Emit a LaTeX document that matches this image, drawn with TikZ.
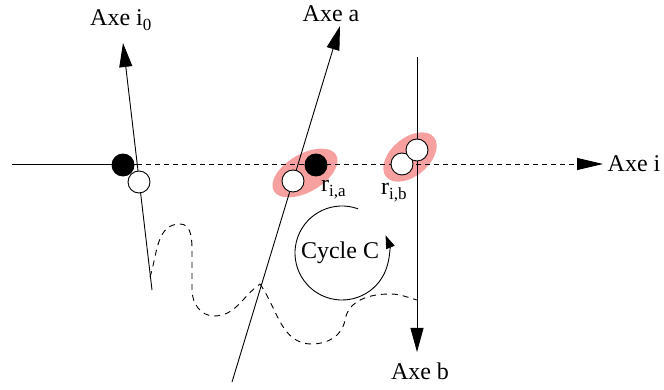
\documentclass[tikz,border=0pt]{standalone}
\usepackage{fontspec}
\setmainfont{Liberation Serif}
\usetikzlibrary{arrows.meta,shapes.geometric}
\definecolor{blob}{RGB}{246,160,160}
\newcommand\mysub[1]{\raisebox{-0.45ex}{\fontsize{17}{20}\selectfont #1}}
\tikzset{
  axis/.style={line width=0.9pt,-{Triangle[length=24pt,width=13pt]}},
  plain/.style={line width=0.9pt},
  dotw/.style={circle,draw,line width=0.9pt,fill=white,minimum size=22pt,inner sep=0pt},
  dotb/.style={circle,draw,line width=0.9pt,fill=black,minimum size=22pt,inner sep=0pt},
  blobs/.style={ellipse,fill=blob,draw=none,inner sep=0pt},
  lab/.style={font=\fontsize{24}{28}\selectfont,inner sep=0pt},
  dashline/.style={line width=0.9pt,dash pattern=on 6pt off 5pt},
}
\begin{document}
\begin{tikzpicture}[x=1pt,y=1pt]
\useasboundingbox (0,0) rectangle (664,390);
% coordinates
\coordinate (hs) at (12,226);
\coordinate (hx) at (137,226);
\coordinate (ht) at (603,226);
\coordinate (i0b) at (152,100);
\coordinate (i0t) at (123,347);
\coordinate (ab) at (232,8);
\coordinate (at) at (340,364);
\coordinate (bb) at (417,333);
\coordinate (bt) at (417,38);
\coordinate (d0) at (150,113);
\coordinate (d1) at (260,106);
\coordinate (d2) at (417,90);
% red blobs
\node[blobs,minimum width=72pt,minimum height=38pt,rotate=30] (ea) at (305,217) {};
\node[blobs,minimum width=62pt,minimum height=38pt,rotate=40] (eb) at (410,233) {};
% axes
\draw[plain] (hs) -- (hx);
\draw[dashline,dash pattern=on 5pt off 4pt,-{Triangle[length=26pt,width=12pt]}] (hx) -- (ht);
\draw[axis] (i0b) -- (i0t);
\draw[axis] (ab) -- (at);
\draw[axis] (bb) -- (bt);
% labels
\node[lab] (li) at (634,226) {Axe i};
\node[lab,anchor=base west] (li0) at (90,364) {Axe i\mysub{0}};
\node[lab] (la) at (331,376) {Axe a};
\node[lab] (lb) at (420,19) {Axe b};
\node[lab,anchor=base west] (ria) at (321,198) {r\mysub{i,a}};
\node[lab,anchor=base west] (rib) at (381,195) {r\mysub{i,b}};
% dots
\node[dotb] (k0) at (123,225) {};
\node[dotw] (w0) at (139,208) {};
\node[dotw] (wa) at (293,209) {};
\node[dotb] (ka) at (316,225) {};
\node[dotw] (wb1) at (402,226) {};
\node[dotw] (wb2) at (417,240) {};
% cycle
\coordinate (cc) at (342,137);
\node[lab] (cyc) at (340,137) {Cycle C};
\draw[plain,-{Triangle[length=13pt,width=9pt]}] (cc) ++(70:47) arc[start angle=70,end angle=382,radius=47];
% dashed path
\draw[dashline] (d0) to[out=72,in=180] (180,166) to[out=0,in=90] (192,138)
  -- (192,100) to[out=-90,in=180] (214,74) to[out=0,in=215] (d1);
\draw[dashline] (d1) to[out=-55,in=180] (312,46) to[out=0,in=-100] (345,70)
  to[out=80,in=180] (390,96) to[out=0,in=165] (d2);
\end{tikzpicture}
\end{document}
